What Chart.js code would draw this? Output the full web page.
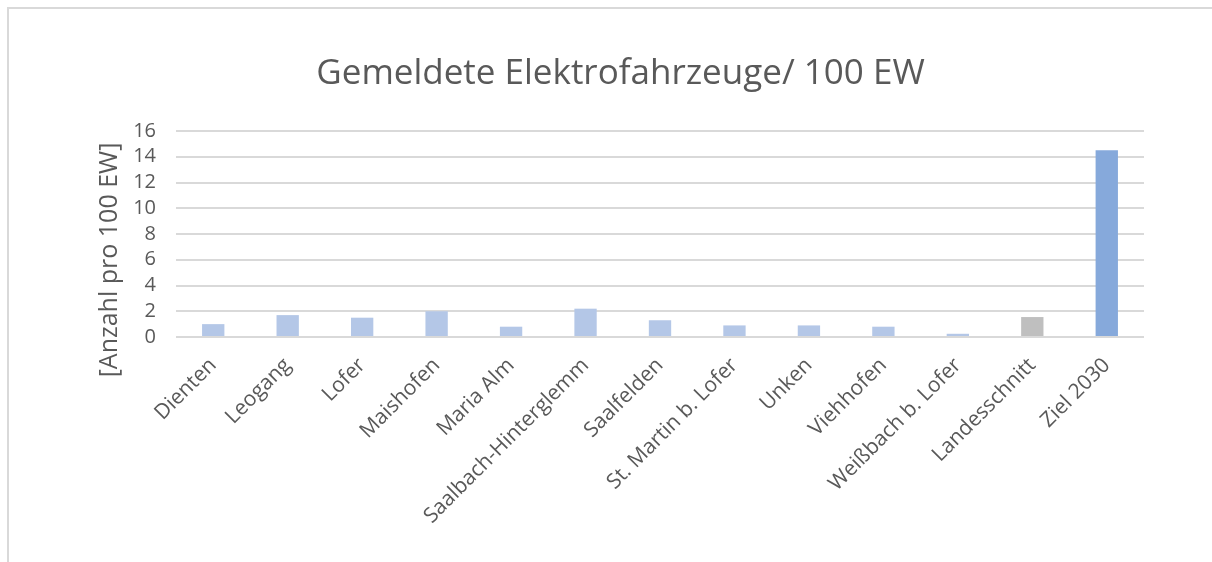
<!DOCTYPE html>
<html>
<head>
<meta charset="utf-8">
<script src="https://cdn.jsdelivr.net/npm/chart.js@4"></script>
<style>
    body { margin: 0; background: #fff; overflow: hidden; }
    .rahmen { position: absolute; left: 7px; top: 7px; width: 1236px; height: 570px; border: 2px solid #d9d9d9; box-sizing: border-box; }
</style>
</head>
<body>
<div class="rahmen"><canvas id="grafico"></canvas></div>
<script>
const gemeinden = ['Dienten', 'Leogang', 'Lofer', 'Maishofen', 'Maria Alm', 'Saalbach-Hinterglemm', 'Saalfelden', 'St. Martin b. Lofer', 'Unken', 'Viehhofen', 'Weißbach b. Lofer', 'Landesschnitt', 'Ziel 2030']
const werte = [1.0, 1.7, 1.5, 2.0, 0.8, 2.2, 1.3, 0.9, 0.9, 0.8, 0.25, 1.55, 14.5]
const farben = ['#b4c7e7', '#b4c7e7', '#b4c7e7', '#b4c7e7', '#b4c7e7', '#b4c7e7', '#b4c7e7', '#b4c7e7', '#b4c7e7', '#b4c7e7', '#b4c7e7', '#bfbfbf', '#86a9db']
const yTicks = [0, 2, 4, 6, 8, 10, 12, 14, 16]
const yTitel = '[Anzahl pro 100 EW]'

const texto = '#595959'
const fonte = '"Open Sans", "Noto Sans", sans-serif'

const canvas = document.getElementById('grafico')
canvas.width = 1232
canvas.height = 566

// y-Achsentitel wie in Excel etwas unter der Mitte
const achsentitel = {
    id: 'achsentitel',
    afterDraw(chart){
        const ctx = chart.ctx
        ctx.save()
        ctx.translate(101, 251)
        ctx.rotate(-Math.PI / 2)
        ctx.font = '25px ' + fonte
        ctx.fillStyle = texto
        ctx.textAlign = 'center'
        ctx.textBaseline = 'middle'
        ctx.fillText(yTitel, 0, 0)
        ctx.restore()
    }
}

const graph = new Chart(canvas.getContext('2d'), {
    type: 'bar',
    data: {
        labels: gemeinden,
        datasets: [{
            data: werte,
            backgroundColor: farben,
            borderWidth: 0,
            barPercentage: 0.3,
            categoryPercentage: 1
        }]
    },
    options: {
        responsive: false,
        animation: false,
        layout: { padding: { left: 88, right: 97, top: 0, bottom: 0 } },
        plugins: {
            legend: { display: false },
            tooltip: { enabled: false },
            title: {
                display: true,
                text: 'Gemeldete Elektrofahrzeuge/ 100 EW',
                color: texto,
                font: { family: fonte, size: 35, weight: 'normal' },
                padding: { top: 44, bottom: 36 }
            }
        },
        scales: {
            y: {
                min: 0,
                max: 16,
                afterBuildTicks: function(scale){ scale.ticks = yTicks.map(v => ({ value: v })) },
                afterFit: function(scale){ scale.width = 79 },
                border: { display: false },
                grid: { color: '#d9d9d9', lineWidth: 2, drawTicks: false },
                ticks: { color: texto, font: { family: fonte, size: 20 }, padding: 20, autoSkip: false }
            },
            x: {
                afterFit: function(scale){ scale.height = 238 },
                border: { display: false },
                grid: { display: false },
                ticks: { color: texto, font: { family: fonte, size: 21 }, maxRotation: 45, minRotation: 45, padding: 8, autoSkip: false }
            }
        }
    },
    plugins: [achsentitel]
})
</script>
</body>
</html>
